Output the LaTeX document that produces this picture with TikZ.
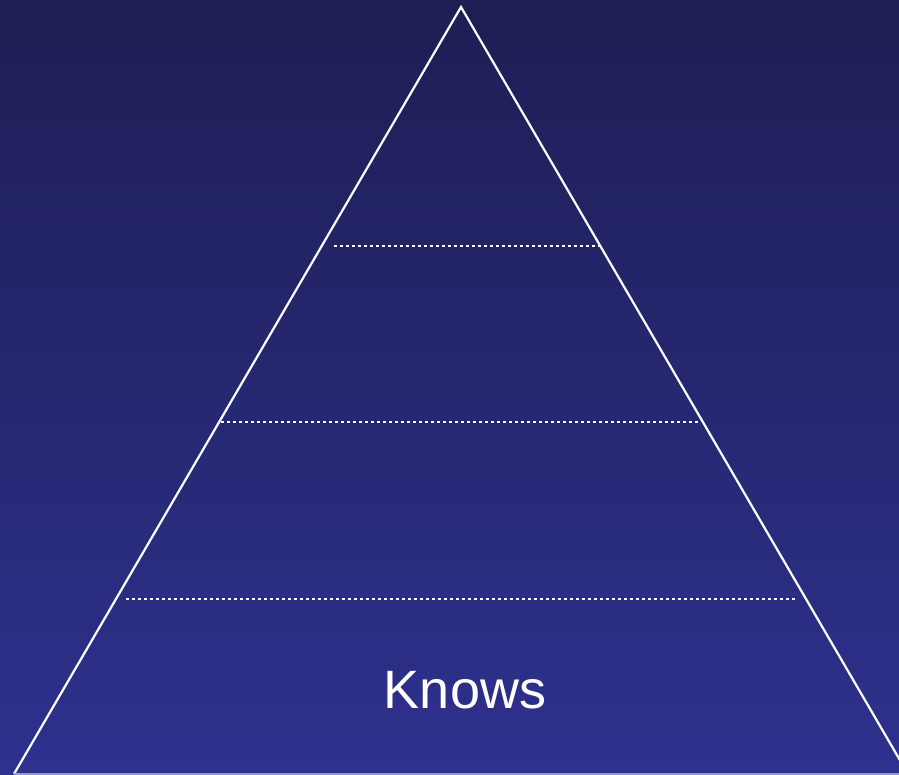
\documentclass[tikz,border=0pt]{standalone}
\usepackage{fontspec}
\setmainfont{Liberation Sans}
\definecolor{bgtop}{RGB}{30,30,84}
\definecolor{bgbot}{RGB}{46,49,142}
\definecolor{baseline}{RGB}{150,150,210}
\tikzset{
  edge/.style={draw=white, line width=2.2pt, line join=miter},
  levelline/.style={draw=white, line width=2pt, dash pattern=on 2.5pt off 3.5pt},
}
\begin{document}
\begin{tikzpicture}[x=1pt,y=-1pt]
\useasboundingbox (0,0) rectangle (899,775);
\shade[top color=bgtop, bottom color=bgbot] (0,0) rectangle (899,775);
\coordinate (apex) at (461,7);
\coordinate (bl) at (14,774);
\coordinate (br) at (908,774);
\draw[edge] (bl) -- (apex) -- (br);
\draw[draw=baseline, line width=1.5pt] (bl) -- (br);
\coordinate (a1) at (334,246); \coordinate (b1) at (600,246);
\coordinate (a2) at (221,422); \coordinate (b2) at (700,422);
\coordinate (a3) at (126,599); \coordinate (b3) at (795,599);
\draw[levelline] (a1) -- (b1);
\draw[levelline] (a2) -- (b2);
\draw[levelline] (a3) -- (b3);
\node[text=white, font=\fontsize{54}{60}\selectfont, inner sep=0pt] (knows) at (465,690) {Knows};
\end{tikzpicture}
\end{document}
